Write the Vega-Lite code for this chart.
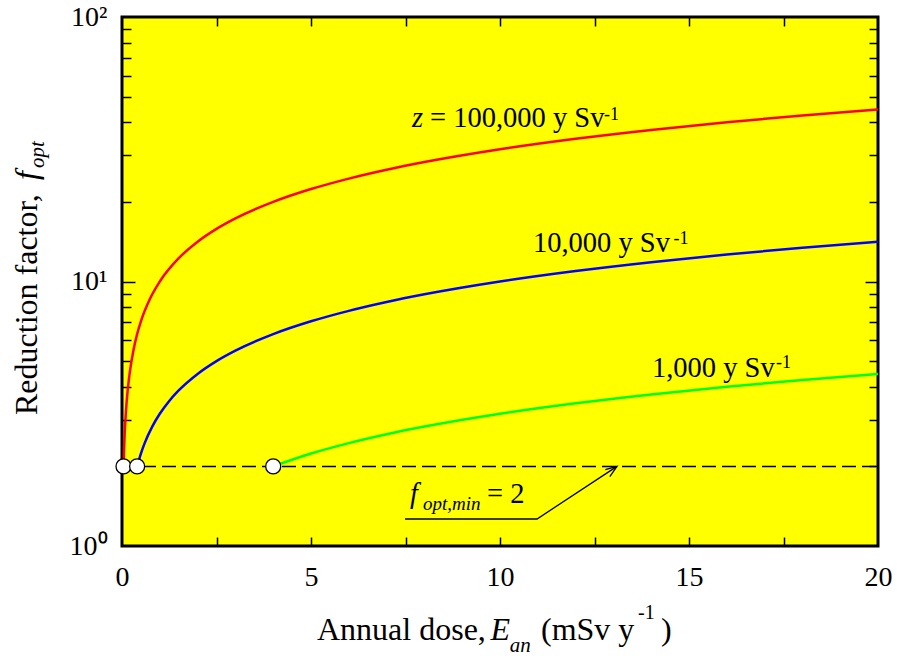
{
  "$schema": "https://vega.github.io/schema/vega-lite/v6.json",
  "width": 756,
  "height": 529,
  "autosize": {"type": "none"},
  "padding": {"left": 122, "top": 17, "right": 19, "bottom": 113},
  "background": "white",
  "config": {
    "view": {"fill": "#ffff00", "stroke": "black", "strokeWidth": 3},
    "axis": {"grid": false, "domain": false, "title": null, "labelFont": "Liberation Serif, Times New Roman, serif", "labelFontSize": 28, "labelColor": "black", "tickColor": "black", "tickWidth": 1.5, "labelFlush": false, "labelOverlap": false},
    "text": {"font": "Liberation Serif, Times New Roman, serif", "color": "black", "align": "left", "baseline": "alphabetic"}
  },
  "datasets": {
    "curves": [
      {"E": 0.04, "f": 2, "z": "100000"}, {"E": 0.05, "f": 2.236, "z": "100000"}, {"E": 0.07, "f": 2.646, "z": "100000"}, {"E": 0.1, "f": 3.162, "z": "100000"}, {"E": 0.15, "f": 3.873, "z": "100000"}, {"E": 0.2, "f": 4.472, "z": "100000"}, {"E": 0.3, "f": 5.477, "z": "100000"}, {"E": 0.4, "f": 6.325, "z": "100000"}, {"E": 0.5, "f": 7.071, "z": "100000"}, {"E": 0.75, "f": 8.66, "z": "100000"}, {"E": 1, "f": 10, "z": "100000"}, {"E": 1.5, "f": 12.247, "z": "100000"}, {"E": 2, "f": 14.142, "z": "100000"}, {"E": 2.5, "f": 15.811, "z": "100000"}, {"E": 3, "f": 17.321, "z": "100000"}, {"E": 4, "f": 20, "z": "100000"}, {"E": 5, "f": 22.361, "z": "100000"}, {"E": 6, "f": 24.495, "z": "100000"}, {"E": 7, "f": 26.458, "z": "100000"}, {"E": 8, "f": 28.284, "z": "100000"}, {"E": 10, "f": 31.623, "z": "100000"}, {"E": 12, "f": 34.641, "z": "100000"}, {"E": 14, "f": 37.417, "z": "100000"}, {"E": 16, "f": 40, "z": "100000"}, {"E": 18, "f": 42.426, "z": "100000"}, {"E": 20, "f": 44.721, "z": "100000"},
      {"E": 0.4, "f": 2, "z": "10000"}, {"E": 0.5, "f": 2.236, "z": "10000"}, {"E": 0.6, "f": 2.449, "z": "10000"}, {"E": 0.8, "f": 2.828, "z": "10000"}, {"E": 1, "f": 3.162, "z": "10000"}, {"E": 1.25, "f": 3.536, "z": "10000"}, {"E": 1.5, "f": 3.873, "z": "10000"}, {"E": 2, "f": 4.472, "z": "10000"}, {"E": 2.5, "f": 5, "z": "10000"}, {"E": 3, "f": 5.477, "z": "10000"}, {"E": 4, "f": 6.325, "z": "10000"}, {"E": 5, "f": 7.071, "z": "10000"}, {"E": 6, "f": 7.746, "z": "10000"}, {"E": 7, "f": 8.367, "z": "10000"}, {"E": 8, "f": 8.944, "z": "10000"}, {"E": 10, "f": 10, "z": "10000"}, {"E": 12, "f": 10.954, "z": "10000"}, {"E": 14, "f": 11.832, "z": "10000"}, {"E": 16, "f": 12.649, "z": "10000"}, {"E": 18, "f": 13.416, "z": "10000"}, {"E": 20, "f": 14.142, "z": "10000"},
      {"E": 4, "f": 2, "z": "1000"}, {"E": 5, "f": 2.236, "z": "1000"}, {"E": 6, "f": 2.449, "z": "1000"}, {"E": 7, "f": 2.646, "z": "1000"}, {"E": 8, "f": 2.828, "z": "1000"}, {"E": 10, "f": 3.162, "z": "1000"}, {"E": 12, "f": 3.464, "z": "1000"}, {"E": 14, "f": 3.742, "z": "1000"}, {"E": 16, "f": 4, "z": "1000"}, {"E": 18, "f": 4.243, "z": "1000"}, {"E": 20, "f": 4.472, "z": "1000"}
    ],
    "circles": [{"E": 0.04, "f": 2}, {"E": 0.4, "f": 2}, {"E": 4, "f": 2}],
    "arrow": [
      {"x": 7.487, "y": 1.265, "seg": "a", "o": 0}, {"x": 10.979, "y": 1.265, "seg": "a", "o": 1}, {"x": 13.095, "y": 2, "seg": "a", "o": 2},
      {"x": 12.786, "y": 1.943, "seg": "b", "o": 0}, {"x": 13.095, "y": 2, "seg": "b", "o": 1}, {"x": 12.905, "y": 1.83, "seg": "b", "o": 2}
    ],
    "txtReg": [
      {"x": 8.148, "y": 38.38, "t": "= 100,000 y Sv"},
      {"x": 10.873, "y": 12.93, "t": "10,000 y Sv"},
      {"x": 14.021, "y": 4.355, "t": "1,000 y Sv"},
      {"x": 9.656, "y": 1.4545, "t": "= 2"}
    ],
    "txtIt": [
      {"x": 7.672, "y": 38.38, "t": "z"},
      {"x": 7.619, "y": 1.4545, "t": "f"}
    ],
    "txtSup": [
      {"x": 12.75, "y": 40.8, "t": "-1"},
      {"x": 14.59, "y": 13.86, "t": "-1"},
      {"x": 17.3, "y": 4.71, "t": "-1"}
    ],
    "txtSub": [
      {"x": 7.963, "y": 1.368, "t": "opt,min"}
    ],
    "xTitleReg": [
      {"x": 5.159, "y": 0.441, "t": "Annual dose,"},
      {"x": 11.085, "y": 0.441, "t": "(mSv y"},
      {"x": 14.26, "y": 0.441, "t": ")"}
    ],
    "xTitleIt": [{"x": 9.75, "y": 0.441, "t": "E"}],
    "xTitleSub": [{"x": 10.26, "y": 0.397, "t": "an"}],
    "xTitleSup": [{"x": 13.65, "y": 0.53, "t": "-1"}],
    "yTitleReg": [{"x": -2.249, "y": 3.128, "t": "Reduction factor,"}],
    "yTitleIt": [{"x": -2.249, "y": 24.19, "t": "f"}],
    "yTitleSub": [{"x": -2.063, "y": 26.87, "t": "opt"}]
  },
  "resolve": {"axis": {"x": "independent", "y": "independent"}},
  "layer": [
    {
      "data": {"values": [{}]},
      "mark": {"type": "rule", "color": "black", "strokeWidth": 1.5, "strokeDash": [14, 6]},
      "encoding": {
        "x": {"datum": 0, "type": "quantitative", "scale": {"domain": [0, 20], "nice": false, "zero": false},
          "axis": {"orient": "bottom", "values": [2.5, 5, 7.5, 10, 12.5, 15, 17.5], "labels": false, "ticks": true, "tickSize": -9}},
        "x2": {"datum": 20},
        "y": {"datum": 2, "type": "quantitative", "scale": {"type": "log", "domain": [1, 100], "nice": false},
          "axis": {"orient": "left", "values": [10], "labels": false, "ticks": true, "tickSize": -13}}
      }
    },
    {
      "data": {"name": "curves"},
      "mark": {"type": "line", "strokeWidth": 2.5, "interpolate": "monotone"},
      "encoding": {
        "x": {"field": "E", "type": "quantitative", "scale": {"domain": [0, 20], "nice": false, "zero": false},
          "axis": {"orient": "bottom", "values": [0, 5, 10, 15, 20], "ticks": false, "labelPadding": 17}},
        "y": {"field": "f", "type": "quantitative", "scale": {"type": "log", "domain": [1, 100], "nice": false},
          "axis": {"orient": "left", "values": [1, 10, 100], "ticks": false, "labelPadding": 15, "labelBaseline": "middle",
            "labelExpr": "datum.value == 1 ? '10⁰' : datum.value == 10 ? '10¹' : '10²'"}},
        "color": {"field": "z", "type": "nominal", "scale": {"domain": ["100000", "10000", "1000"], "range": ["#ff0000", "#0000ff", "#00ff00"]}, "legend": null},
        "order": {"field": "E", "type": "quantitative"}
      }
    },
    {
      "data": {"name": "arrow"},
      "mark": {"type": "line", "color": "black", "strokeWidth": 1.3},
      "encoding": {
        "x": {"field": "x", "type": "quantitative", "scale": {"domain": [0, 20], "nice": false, "zero": false}, "axis": null},
        "y": {"field": "y", "type": "quantitative", "scale": {"type": "log", "domain": [1, 100], "nice": false},
          "axis": {"orient": "right", "values": [10], "labels": false, "ticks": true, "tickSize": -13}},
        "detail": {"field": "seg"},
        "order": {"field": "o", "type": "quantitative"}
      }
    },
    {
      "data": {"name": "circles"},
      "mark": {"type": "point", "shape": "circle", "filled": true, "fill": "white", "stroke": "black", "strokeWidth": 1.3, "size": 225, "opacity": 1},
      "encoding": {
        "x": {"field": "E", "type": "quantitative", "scale": {"domain": [0, 20], "nice": false, "zero": false},
          "axis": {"orient": "top", "values": [2.5, 5, 7.5, 10, 12.5, 15, 17.5], "labels": false, "ticks": true, "tickSize": -9}},
        "y": {"field": "f", "type": "quantitative", "scale": {"type": "log", "domain": [1, 100], "nice": false},
          "axis": {"orient": "left", "values": [2, 3, 4, 5, 6, 7, 8, 9, 20, 30, 40, 50, 60, 70, 80, 90], "labels": false, "ticks": true, "tickSize": -9}}
      }
    },
    {
      "data": {"name": "txtReg"},
      "mark": {"type": "text", "fontSize": 28.5},
      "encoding": {
        "x": {"field": "x", "type": "quantitative", "scale": {"domain": [0, 20], "nice": false, "zero": false}, "axis": null},
        "y": {"field": "y", "type": "quantitative", "scale": {"type": "log", "domain": [1, 100], "nice": false},
          "axis": {"orient": "right", "values": [2, 3, 4, 5, 6, 7, 8, 9, 20, 30, 40, 50, 60, 70, 80, 90], "labels": false, "ticks": true, "tickSize": -9}},
        "text": {"field": "t"}
      }
    },
    {
      "data": {"name": "txtIt"},
      "mark": {"type": "text", "fontSize": 28.5, "fontStyle": "italic"},
      "encoding": {
        "x": {"field": "x", "type": "quantitative", "axis": null},
        "y": {"field": "y", "type": "quantitative", "axis": null},
        "text": {"field": "t"}
      }
    },
    {
      "data": {"name": "txtSup"},
      "mark": {"type": "text", "fontSize": 18},
      "encoding": {
        "x": {"field": "x", "type": "quantitative", "axis": null},
        "y": {"field": "y", "type": "quantitative", "axis": null},
        "text": {"field": "t"}
      }
    },
    {
      "data": {"name": "txtSub"},
      "mark": {"type": "text", "fontSize": 19, "fontStyle": "italic"},
      "encoding": {
        "x": {"field": "x", "type": "quantitative", "axis": null},
        "y": {"field": "y", "type": "quantitative", "axis": null},
        "text": {"field": "t"}
      }
    },
    {
      "data": {"name": "xTitleReg"},
      "mark": {"type": "text", "fontSize": 32},
      "encoding": {
        "x": {"field": "x", "type": "quantitative", "axis": null},
        "y": {"field": "y", "type": "quantitative", "axis": null},
        "text": {"field": "t"}
      }
    },
    {
      "data": {"name": "xTitleIt"},
      "mark": {"type": "text", "fontSize": 32, "fontStyle": "italic"},
      "encoding": {
        "x": {"field": "x", "type": "quantitative", "axis": null},
        "y": {"field": "y", "type": "quantitative", "axis": null},
        "text": {"field": "t"}
      }
    },
    {
      "data": {"name": "xTitleSub"},
      "mark": {"type": "text", "fontSize": 21, "fontStyle": "italic"},
      "encoding": {
        "x": {"field": "x", "type": "quantitative", "axis": null},
        "y": {"field": "y", "type": "quantitative", "axis": null},
        "text": {"field": "t"}
      }
    },
    {
      "data": {"name": "xTitleSup"},
      "mark": {"type": "text", "fontSize": 20},
      "encoding": {
        "x": {"field": "x", "type": "quantitative", "axis": null},
        "y": {"field": "y", "type": "quantitative", "axis": null},
        "text": {"field": "t"}
      }
    },
    {
      "data": {"name": "yTitleReg"},
      "mark": {"type": "text", "fontSize": 32, "angle": 270},
      "encoding": {
        "x": {"field": "x", "type": "quantitative", "axis": null},
        "y": {"field": "y", "type": "quantitative", "axis": null},
        "text": {"field": "t"}
      }
    },
    {
      "data": {"name": "yTitleIt"},
      "mark": {"type": "text", "fontSize": 32, "fontStyle": "italic", "angle": 270},
      "encoding": {
        "x": {"field": "x", "type": "quantitative", "axis": null},
        "y": {"field": "y", "type": "quantitative", "axis": null},
        "text": {"field": "t"}
      }
    },
    {
      "data": {"name": "yTitleSub"},
      "mark": {"type": "text", "fontSize": 21, "fontStyle": "italic", "angle": 270},
      "encoding": {
        "x": {"field": "x", "type": "quantitative", "axis": null},
        "y": {"field": "y", "type": "quantitative", "axis": null},
        "text": {"field": "t"}
      }
    }
  ]
}
